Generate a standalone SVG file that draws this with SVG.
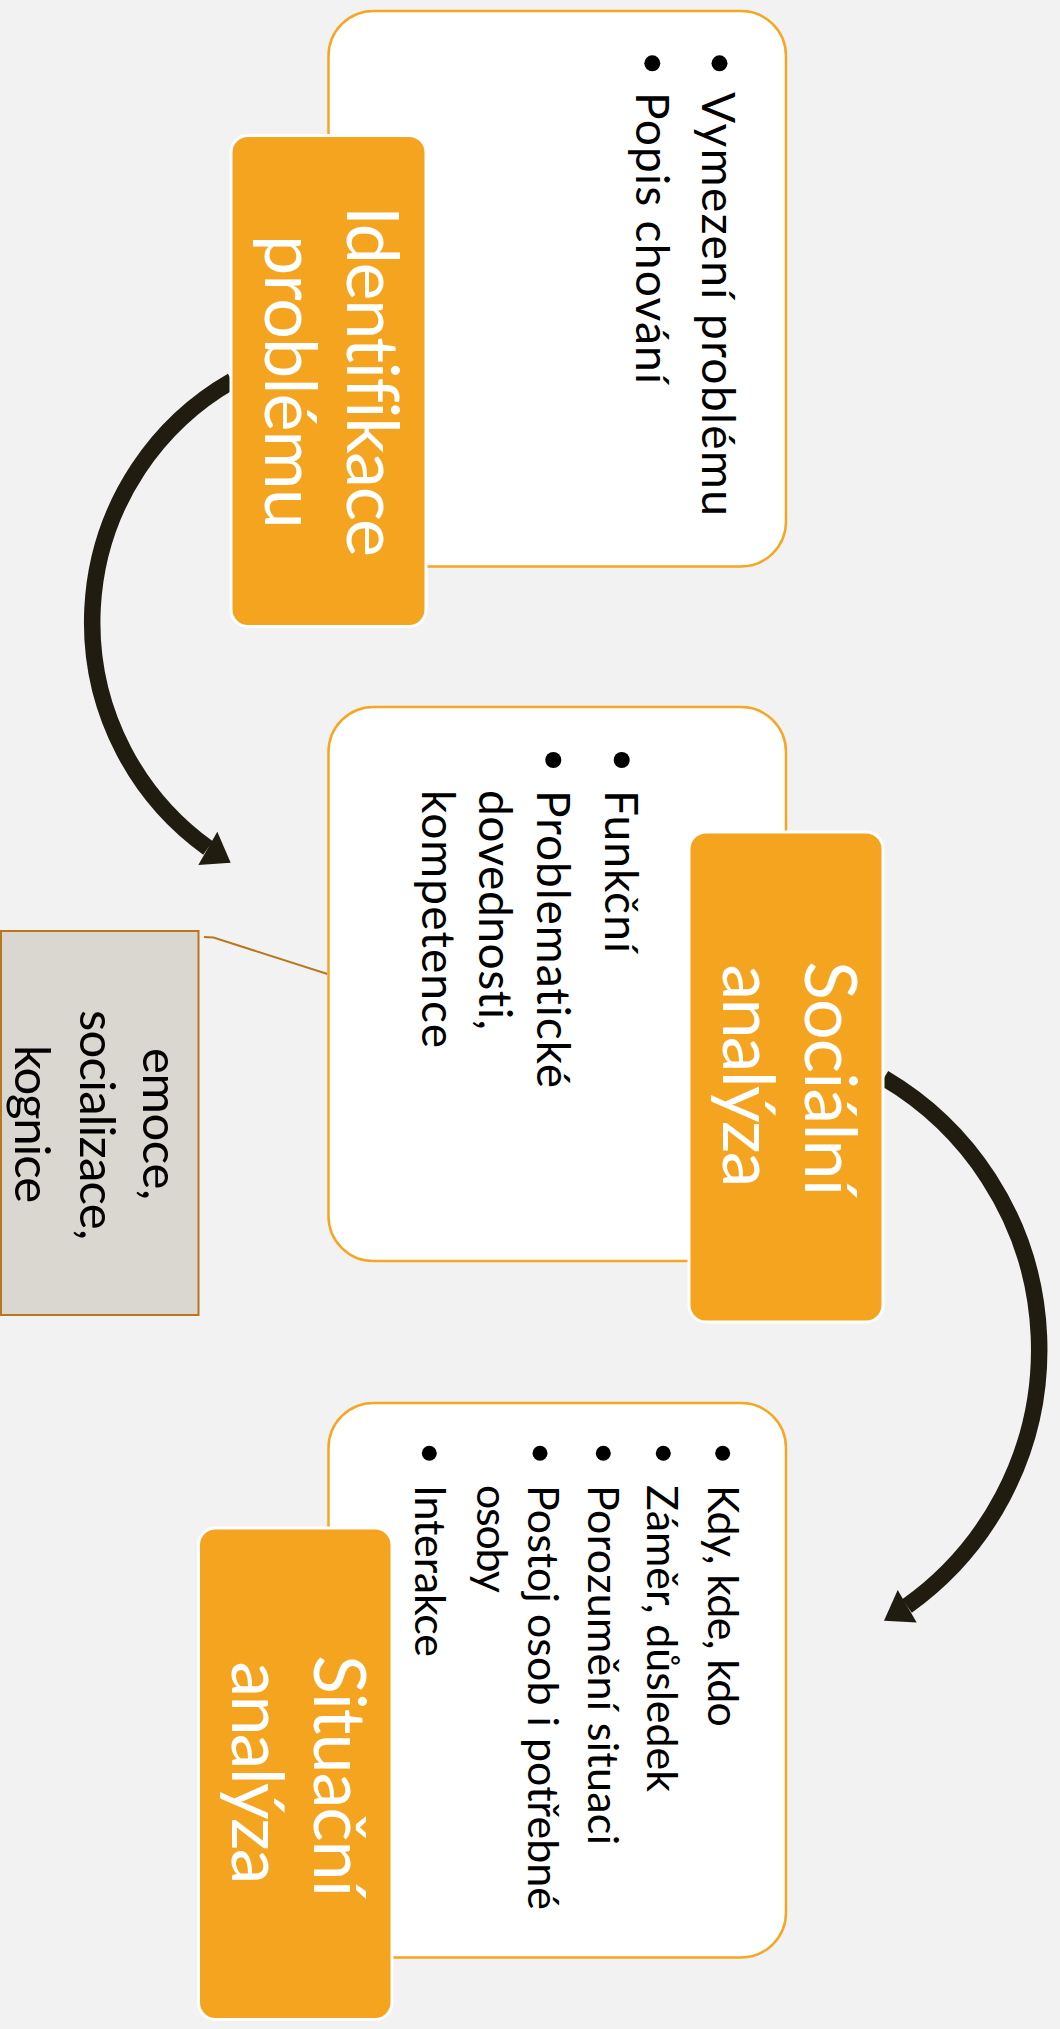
<svg xmlns="http://www.w3.org/2000/svg" width="1060" height="2029" viewBox="0 0 1060 2029">
  <style>
    text { font-variant-ligatures: none; }
    .card { fill: #FFFFFF; stroke: #F5A623; stroke-width: 2.5; }
    .tab { fill: #F5A420; stroke: #FFFFFF; stroke-width: 3; }
    .title { font-family: Lato, "Open Sans", "Liberation Sans", sans-serif; font-size: 72px; fill: #FFFFFF; text-anchor: middle; }
    .body { font-family: Lato, "Open Sans", "Liberation Sans", sans-serif; font-size: 46px; fill: #000000; }
    .body3 { font-family: Lato, "Open Sans", "Liberation Sans", sans-serif; font-size: 43px; fill: #000000; }
    .note { font-family: Lato, "Open Sans", "Liberation Sans", sans-serif; font-size: 49px; fill: #000000; text-anchor: middle; }
    .dot { fill: #000000; }
    .arc { fill: none; stroke: #201C10; stroke-width: 16.5; }
    .head { fill: #201C10; }
    .link { fill: none; stroke: #B8761F; stroke-width: 2; }
  </style>
  <rect x="0" y="0" width="1060" height="2029" fill="#F2F2F2"/>

  <g id="connectors">
    <path class="arc" d="M 232 381 A 278 278 0 0 0 208 848"/>
    <polygon class="head" points="230.7,862.7 198.3,865 217.3,831.7"/>
    <path class="arc" d="M 884 1078 A 315 315 0 0 1 907 1606"/>
    <polygon class="head" points="884,1620.7 916.7,1622.6 897.7,1590"/>
    <polyline class="link" points="204,937 213.5,937.5 327.5,974"/>
  </g>

  <g id="card-identifikace">
    <rect class="card" x="328.5" y="11" width="457.5" height="555.5" rx="45" ry="45"/>
    <circle class="dot" cx="719.5" cy="63.3" r="8"/>
    <text class="body" transform="translate(702,92) rotate(90)" textLength="424">Vymezení problému</text>
    <circle class="dot" cx="652.3" cy="63.3" r="8"/>
    <text class="body" transform="translate(636,92) rotate(90)" textLength="292">Popis chování</text>
  </g>
  <g id="node-identifikace">
    <rect class="tab" x="231" y="135.5" width="195" height="491" rx="17" ry="17"/>
    <text class="title" transform="translate(347,381.5) rotate(90)" textLength="351">Identifikace</text>
    <text class="title" transform="translate(265,382) rotate(90)" textLength="294">problému</text>
  </g>

  <g id="card-socialni">
    <rect class="card" x="328.5" y="707" width="457.5" height="554" rx="45" ry="45"/>
    <circle class="dot" cx="621.7" cy="760" r="8"/>
    <text class="body" transform="translate(605,790) rotate(90)" textLength="163">Funkční</text>
    <circle class="dot" cx="553.3" cy="760" r="8"/>
    <text class="body" transform="translate(537,790) rotate(90)" textLength="298">Problematické</text>
    <text class="body" transform="translate(479,790) rotate(90)" textLength="240">dovednosti,</text>
    <text class="body" transform="translate(422,790) rotate(90)" textLength="258">kompetence</text>
  </g>
  <g id="node-socialni">
    <rect class="tab" x="689" y="832" width="194" height="490" rx="17" ry="17"/>
    <text class="title" transform="translate(805,1078.5) rotate(90)" textLength="235">Sociální</text>
    <text class="title" transform="translate(723,1076) rotate(90)" textLength="223">analýza</text>
  </g>

  <g id="note-emoce">
    <rect x="1" y="931" width="197.5" height="384" fill="#DAD6D0" stroke="#B8761F" stroke-width="2"/>
    <text class="note" transform="translate(143.3,1124) rotate(90)" textLength="152">emoce,</text>
    <text class="note" transform="translate(80,1125) rotate(90)" textLength="230">socializace,</text>
    <text class="note" transform="translate(15,1124) rotate(90)" textLength="158">kognice</text>
  </g>

  <g id="card-situacni">
    <rect class="card" x="328.5" y="1403" width="457.5" height="554.5" rx="45" ry="45"/>
    <circle class="dot" cx="722.7" cy="1453.3" r="7.5"/>
    <text class="body3" transform="translate(708,1485) rotate(90)" textLength="242">Kdy, kde, kdo</text>
    <circle class="dot" cx="663.3" cy="1453.3" r="7.5"/>
    <text class="body3" transform="translate(647,1485) rotate(90)" textLength="307">Záměr, důsledek</text>
    <circle class="dot" cx="603.3" cy="1453.3" r="7.5"/>
    <text class="body3" transform="translate(588,1485) rotate(90)" textLength="360">Porozumění situaci</text>
    <circle class="dot" cx="540" cy="1453.3" r="7.5"/>
    <text class="body3" transform="translate(528,1485) rotate(90)" textLength="425">Postoj osob i potřebné</text>
    <text class="body3" transform="translate(477,1485) rotate(90)" textLength="108">osoby</text>
    <circle class="dot" cx="429.3" cy="1453.3" r="7.5"/>
    <text class="body3" transform="translate(415,1485) rotate(90)" textLength="172">Interakce</text>
  </g>
  <g id="node-situacni">
    <rect class="tab" x="198.5" y="1528" width="193.5" height="491.5" rx="17" ry="17"/>
    <text class="title" transform="translate(314,1776) rotate(90)" textLength="242">Situační</text>
    <text class="title" transform="translate(232,1773) rotate(90)" textLength="223">analýza</text>
  </g>
</svg>
